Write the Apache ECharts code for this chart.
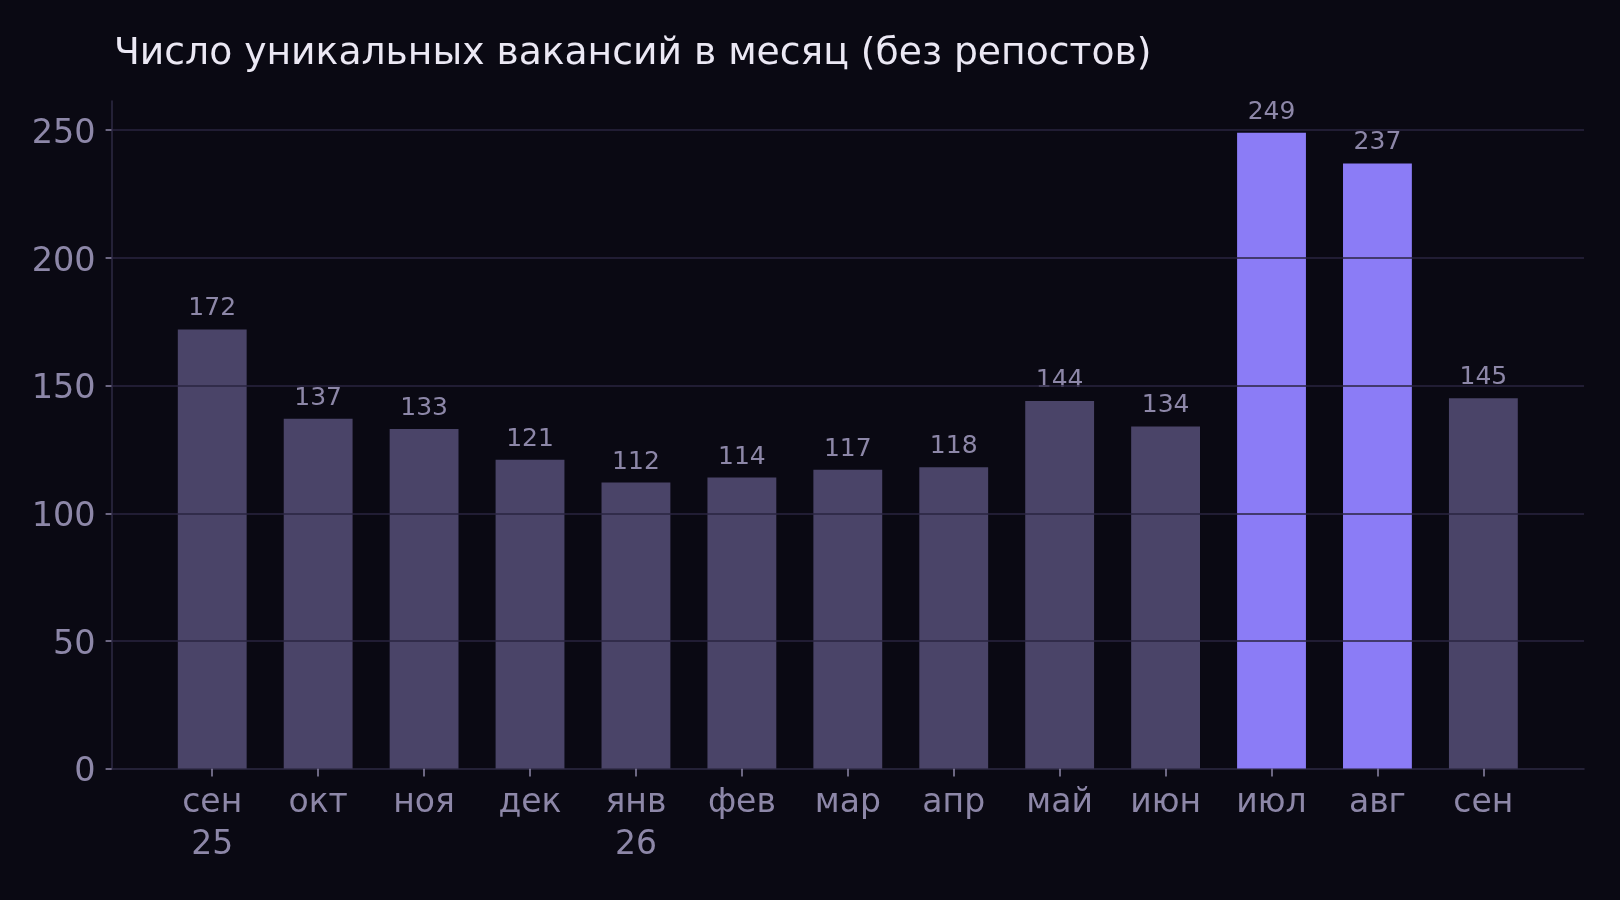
<!DOCTYPE html>
<html>
<head>
<meta charset="utf-8">
<script src="https://cdn.jsdelivr.net/npm/echarts@6/dist/echarts.min.js"></script>
<style>
html,body{margin:0;padding:0;background:#0a0913;}
#chart{width:1620px;height:900px;}
</style>
</head>
<body>
<div id="chart"></div>
<script>
const categories = ['сен\n25','окт','ноя','дек','янв\n26','фев','мар','апр','май','июн','июл','авг','сен'];
const values = [172,137,133,121,112,114,117,118,144,134,249,237,145];
const highlighted = [false,false,false,false,false,false,false,false,false,false,true,true,false];
const yTicks = [0,50,100,150,200,250];
const titleText = 'Число уникальных вакансий в месяц (без репостов)';

const FONT = 'DejaVu Sans';
const LABEL = '#8d87a8';
const chart = echarts.init(document.getElementById('chart'), null, {renderer:'canvas'});
const idx = categories.map((c,i)=>i);
chart.setOption({
  backgroundColor:'#0a0913',
  animation:false,
  title:{
    text:titleText, left:109, top:30,
    textStyle:{fontFamily:FONT, fontSize:37.7, fontWeight:'normal', color:'#ebe8f4'}
  },
  grid:{left:111.6, right:36, top:101, bottom:131.4, containLabel:false},
  xAxis:{
    type:'value', min:-0.95, max:12.95,
    splitLine:{show:false},
    axisLine:{show:true, onZero:false, lineStyle:{color:'#2e2a44', width:1.5}},
    axisTick:{show:true, customValues:idx, length:8, lineStyle:{color:LABEL, width:1.5}},
    axisLabel:{show:true, customValues:idx, margin:14, fontFamily:FONT, fontSize:33, color:LABEL, lineHeight:42,
      formatter:(v)=>categories[Math.round(v)] ?? ''}
  },
  yAxis:{
    type:'value', min:0, max:261.45,
    splitLine:{show:false},
    axisLine:{show:true, onZero:false, lineStyle:{color:'#2e2a44', width:1.5}},
    axisTick:{show:true, customValues:yTicks, length:6, lineStyle:{color:LABEL, width:1.5}},
    axisLabel:{show:true, customValues:yTicks, margin:16, color:LABEL,
      formatter:(v)=>'{t|' + v + '}',
      rich:{t:{fontFamily:FONT, fontSize:33.5, color:LABEL, padding:[8,0,0,0]}}}
  },
  series:[{
    type:'bar',
    barWidth:'65%',
    data: values.map((v,i)=>({value:[i,v], itemStyle:{color: highlighted[i] ? '#8b7cf6' : '#4a4468'}})),
    label:{show:true, position:'top', distance:8, fontFamily:FONT, fontSize:25, color:LABEL,
      formatter:(p)=>String(p.value[1])},
    markLine:{
      silent:true, symbol:'none', z:5,
      label:{show:false},
      lineStyle:{color:'#2a2540', width:1.5, type:'solid'},
      data: yTicks.filter(v=>v>0).map(v=>({yAxis:v}))
    }
  }]
});
</script>
</body>
</html>
